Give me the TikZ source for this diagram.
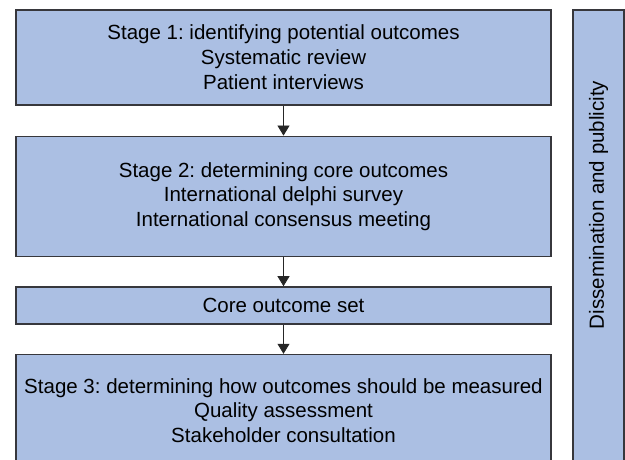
\documentclass[tikz,border=0pt]{standalone}
\usepackage{fontspec}
\setmainfont{Liberation Sans}
\usepackage{tikz}
\usetikzlibrary{arrows.meta, positioning}

\definecolor{boxblue}{RGB}{171,191,227}
\definecolor{edgegray}{RGB}{55,55,60}

\begin{document}
\frenchspacing
\begin{tikzpicture}[
    font=\fontsize{20.5}{24.7}\selectfont,
    stagebox/.style={draw=edgegray, line width=1.6pt, fill=boxblue, rectangle, align=center, minimum width=535pt},
    flow/.style={-{Triangle[width=12pt, length=10pt]}, line width=0.8pt, draw=black!85}
]
    \useasboundingbox (0,0) rectangle (625pt,-460pt);
    \clip (0,0) rectangle (625pt,-460pt);

    \node (stageone) [stagebox, anchor=north, minimum height=95pt] at (283.5pt,-9pt) {Stage 1: identifying potential outcomes \\ Systematic review \\ Patient interviews};
    \node (stagetwo) [stagebox, below=30pt of stageone, minimum height=120pt] {Stage 2: determining core outcomes \\ International delphi survey \\ International consensus meeting};
    \node (coreset) [stagebox, below=29pt of stagetwo, minimum height=37pt] {Core outcome set};
    \node (stagethree) [stagebox, below=29pt of coreset, minimum height=112pt] {Stage 3: determining how outcomes should be measured \\ Quality assessment \\ Stakeholder consultation};

    \node (side) [stagebox, anchor=north, minimum width=51pt, minimum height=500pt] at (598.5pt,-9pt) {};
    \node (sidelabel) [rotate=90] at (598.5pt,-205pt) {Dissemination and publicity};

    \draw[flow] (stageone) -- (stagetwo);
    \draw[flow] (stagetwo) -- (coreset);
    \draw[flow] (coreset) -- (stagethree);
\end{tikzpicture}
\end{document}
